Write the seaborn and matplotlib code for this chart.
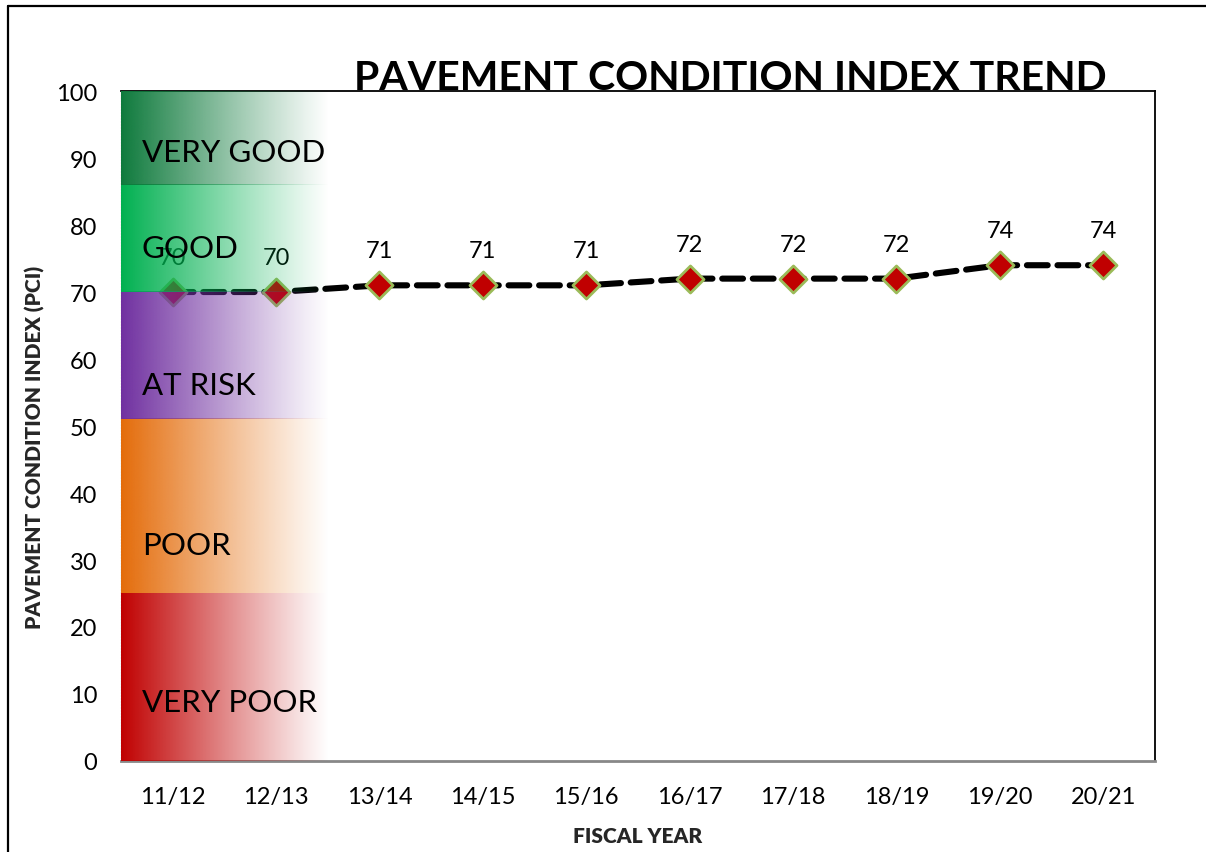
import numpy as np
import pandas as pd
import matplotlib
matplotlib.use("Agg")
import matplotlib.pyplot as plt
import seaborn as sns
from matplotlib.colors import to_rgb
from matplotlib.lines import Line2D

# data
years = ["11/12", "12/13", "13/14", "14/15", "15/16", "16/17", "17/18", "18/19", "19/20", "20/21"]
pci = [70, 70, 71, 71, 71, 72, 72, 72, 74, 74]

band_names = ["VERY POOR", "POOR", "AT RISK", "GOOD", "VERY GOOD"]
band_low = [0, 25, 51, 70, 86]
band_high = [25, 51, 70, 86, 100]
band_colors = ["#C00000", "#E46C0A", "#7030A0", "#00B050", "#0E7A3C"]
band_label_y = [8.8, 32.2, 56.1, 76.6, 90.9]

df = pd.DataFrame({"Year": years, "PCI": pci})

sns.set_theme(style="white")
plt.rcParams["font.family"] = ["Lato", "DejaVu Sans"]

fig = plt.figure(figsize=(12.06, 8.53), dpi=100)
ax = fig.add_axes([0.1003, 0.1067, 0.8574, 0.7854])

sns.lineplot(data=df, x="Year", y="PCI", sort=False, color="black", lw=4.4,
             ax=ax, zorder=2)
ax.lines[0].set_dashes((3.4, 1.6))
ax.lines[0].set_dash_capstyle("round")
sns.scatterplot(data=df, x="Year", y="PCI", marker="D", s=190, color="#C00000",
                edgecolor="#9BBB59", linewidth=2, ax=ax, zorder=3)

for i, v in enumerate(pci):
    ax.text(i, v + 3.6, str(v), ha="center", va="bottom", fontsize=17, color="black", zorder=3)

# gradient bands on the left, fading to white
w = 256
t = np.linspace(0, 1, w)
for name, lo, hi, c, ly in zip(band_names, band_low, band_high, band_colors, band_label_y):
    img = np.zeros((1, w, 4))
    img[0, :, :3] = to_rgb(c)
    img[0, :, 3] = (1 - t) ** 1.1
    ax.imshow(img, extent=(-0.5, 1.52, lo, hi), aspect="auto", zorder=4,
              interpolation="bilinear")
    ax.text(-0.3, ly, name, ha="left", va="center", fontsize=22.5, color="black", zorder=5)

ax.set_xlim(-0.5, len(years) - 0.5)
ax.set_ylim(0, 100)
ax.set_yticks(range(0, 101, 10))

for s in ["top", "right"]:
    ax.spines[s].set_color("black")
    ax.spines[s].set_linewidth(1.3)
ax.spines["bottom"].set_color("#888888")
ax.spines["bottom"].set_linewidth(2)
ax.spines["left"].set_color("#555555")
ax.spines["left"].set_linewidth(0.8)
ax.spines["left"].set_linestyle(":")

ax.tick_params(axis="both", length=0, labelsize=17, colors="black")
ax.tick_params(axis="x", pad=18)
ax.tick_params(axis="y", pad=17)

ax.set_xlabel("FISCAL YEAR", fontsize=15, fontweight="heavy")
ax.xaxis.set_label_coords(0.5, -0.097)
ax.set_ylabel("PAVEMENT CONDITION INDEX (PCI)", fontsize=15, fontweight="heavy")
ax.yaxis.set_label_coords(-0.073, 0.47)

fig.text(0.6055, 1 - 90.5 / 853, "PAVEMENT CONDITION INDEX TREND", ha="center", va="baseline",
         fontsize=29.5, fontweight="bold", color="black")

# outer chart border (cropped on right and bottom)
fig.add_artist(Line2D([0.007, 0.007], [0.0, 0.9915], color="black", lw=1.6, transform=fig.transFigure))
fig.add_artist(Line2D([0.007, 1.0], [0.9915, 0.9915], color="black", lw=1.6, transform=fig.transFigure))

fig.savefig("out.png", dpi=100)
